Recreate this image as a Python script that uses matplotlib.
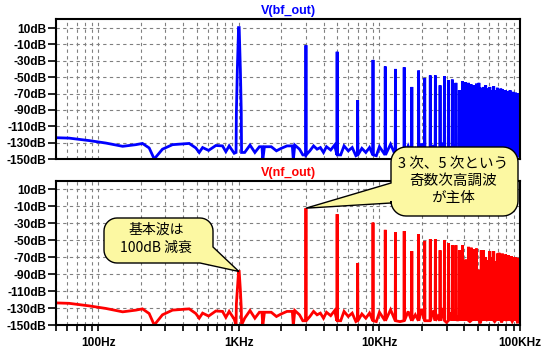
import matplotlib
matplotlib.use("Agg")
import matplotlib.pyplot as plt
from matplotlib.patches import Polygon
from matplotlib.transforms import IdentityTransform
from matplotlib.ticker import FixedLocator, LogLocator, NullFormatter
import numpy as np

# noise floor (Hz, dB)
floor_hz = [50, 62, 86, 113, 149, 185, 206, 230, 250, 286, 337, 443, 494, 522, 552,
            609, 686, 765, 808, 853, 926,
            1100, 1200, 1300, 1400, 1460, 1480, 1520, 1700, 1850, 2000, 2200, 2400,
            2440, 2500, 2700, 2850, 3200, 3400, 3600, 3800, 4000, 4200, 4500, 4800,
            5300, 5600, 6000, 6400, 6800, 7500, 8000, 8500, 9500, 10000,
            12000, 14000, 16000, 18000, 20000, 22000, 24000, 26000, 28000, 30000,
            32000, 34000, 36000, 38000, 40000, 42000, 44000, 46000, 48000, 50000,
            52000, 54000, 56000, 58000, 60000, 62000, 64000, 66000, 68000, 70000,
            72000, 74000, 76000, 78000, 80000, 82000, 84000, 86000, 88000, 90000,
            92000, 94000, 96000, 98000, 100000]
floor_db = [-124, -124.5, -127.5, -130.5, -134.5, -132.5, -131, -136.5, -150, -138,
            -132.5, -131, -136.5, -142, -136, -139.5, -133.5, -134, -141, -134, -143,
            -142, -133, -142, -135, -135, -151, -135, -135, -140, -137, -134, -134,
            -151, -133, -138, -145, -140, -134, -138, -136, -142, -135, -139, -133,
            -145, -134, -140, -136, -146, -137, -142, -136, -146, -135,
            -132, -146, -134, -138, -131, -145, -133, -140, -130, -147,
            -135, -132, -142, -134, -138, -131, -146, -133, -140, -130,
            -148, -134, -131, -143, -135, -138, -130, -146, -133, -141,
            -131, -147, -134, -132, -144, -135, -139, -130, -146, -133,
            -141, -131, -148, -134, -136]

# fundamental (1 kHz) peak shape
fund_hz = [955, 960, 975, 995, 1005, 1025, 1040, 1045]
bf_fund_db = [-142, -93, -41, 10.5, 10.5, -41, -93, -142]
nf_fund_db = [-150, -125, -109, -87, -87, -109, -130, -150]

# odd harmonics 3k ... 99k
harm_khz = list(range(3, 100, 2))
bf_harm_db = [-11, -19, -78, -29, -37, -40, -38, -62, -42, -51, -48, -48, -60, -49,
              -54, -53, -57, -66, -55, -56, -57, -59, -60, -58, -57, -63, -62, -60,
              -64, -62, -66, -61, -66, -63, -68, -64, -65, -70, -66, -67, -68, -66,
              -69, -68, -70, -69, -71, -70, -71]
nf_harm_db = [-12.5, -19.5, -77, -29.5, -38, -41, -39.5, -63, -43, -51, -49, -49, -62,
              -50, -54, -56, -56, -62, -56, -73, -58, -59, -61, -60, -85, -62, -62,
              -70, -74, -63, -70, -63, -75, -66, -65, -67, -66, -72, -67, -68, -68,
              -70, -69, -70, -70, -70, -71, -72, -80]

y_ticks = [10, -10, -30, -50, -70, -90, -110, -130, -150]
x_ticks = [100, 1000, 10000, 100000]
x_labels = ["100Hz", "1KHz", "10KHz", "100KHz"]

SPIKE_BASE = -145
W, H = 553, 354


def trace(fund_db, harm_db):
    pts = list(zip(floor_hz, floor_db)) + list(zip(fund_hz, fund_db))
    for k, v in zip(harm_khz, harm_db):
        f = k * 1000
        pts += [(f * 0.996, SPIKE_BASE), (f, v), (f * 1.004, SPIKE_BASE)]
    pts.sort()
    f, d = zip(*pts)
    return f, d


fig = plt.figure(figsize=(W / 100, H / 100), dpi=100)
fig.patch.set_facecolor("white")
ax1 = fig.add_axes([56 / W, 1 - 159 / H, 464 / W, 140 / H])
ax2 = fig.add_axes([56 / W, 1 - 325 / H, 464 / W, 144 / H])

lab_font = dict(family="Liberation Sans", weight="bold", size=8.6)

for ax, fd, hd, col, name, top in [(ax1, bf_fund_db, bf_harm_db, "#0000ff", "V(bf_out)", 21),
                                   (ax2, nf_fund_db, nf_harm_db, "#ff0000", "V(nf_out)", 19.5)]:
    f, d = trace(fd, hd)
    ax.plot(f, d, color=col, lw=2.0, solid_joinstyle="miter")
    ax.set_xscale("log")
    ax.set_xlim(50, 100000)
    ax.set_ylim(-150, top)
    ax.set_yticks(y_ticks)
    ax.set_yticklabels([f"{v}dB" for v in y_ticks], **lab_font)
    ax.xaxis.set_major_locator(FixedLocator(x_ticks))
    ax.xaxis.set_minor_locator(LogLocator(base=10, subs=np.arange(2, 10)))
    ax.xaxis.set_minor_formatter(NullFormatter())
    ax.grid(True, which="both", axis="x", color="#808080", ls=(0, (3, 3)), lw=0.8)
    ax.grid(True, which="major", axis="y", color="#808080", ls=(0, (3, 3)), lw=0.8)
    ax.tick_params(axis="y", direction="out", length=6, width=1.2, pad=1)
    for s in ax.spines.values():
        s.set_linewidth(1.5)
    ax.set_title(name, color=col, pad=3.5, family="Liberation Sans",
                 weight="bold", size=9)

ax1.tick_params(axis="x", which="both", length=0, labelbottom=False)
ax2.set_xticklabels(x_labels, **lab_font)
ax2.tick_params(axis="x", which="major", direction="out", length=4, width=1.2, pad=5)
ax2.tick_params(axis="x", which="minor", direction="out", length=4, width=1.2)


def bubble(box, r, tip, where, a, b):
    x0, y0, x1, y1 = box
    t, bt = H - y0, H - y1
    def arc(cx, cy, a0, a1):
        ang = np.radians(np.linspace(a0, a1, 10))
        return [(cx + r * np.cos(q), cy + r * np.sin(q)) for q in ang]
    bl = arc(x0 + r, bt + r, 180, 270)
    br = arc(x1 - r, bt + r, 270, 360)
    tr = arc(x1 - r, t - r, 0, 90)
    tl = arc(x0 + r, t - r, 90, 180)
    if where == "br":
        verts = bl + [(a, bt), tuple(tip), (x1, H - b)] + tr + tl
    else:
        verts = bl + br + tr + tl + [(x0, H - a), tuple(tip), (x0, H - b)]
    p = Polygon(verts, closed=True, fc="#fcf8a2", ec="black", lw=1.0,
                transform=IdentityTransform(), zorder=10)
    fig.add_artist(p)


tip1 = ax2.transData.transform((1000, nf_fund_db[3]))
tip2 = ax2.transData.transform((3000, nf_harm_db[0]))
bubble((104, 218, 213, 263), 13, tip1, "br", 200, 247)
bubble((391, 147, 518, 216), 15, tip2, "left", 183, 203)

cjk = ["Noto Sans CJK JP", "DejaVu Sans"]
for txt, x, y, sz in [("基本波は", 156, 230, 10), ("100dB 減衰", 156, 248, 10),
                      ("3 次、5 次という", 453, 164, 10.5), ("奇数次高調波", 453, 181, 10.5),
                      ("が主体", 453, 198, 10.5)]:
    fig.text(x / W, 1 - y / H, txt, ha="center", va="center", family=cjk,
             size=sz, zorder=11)

fig.savefig("out.png", dpi=100)
